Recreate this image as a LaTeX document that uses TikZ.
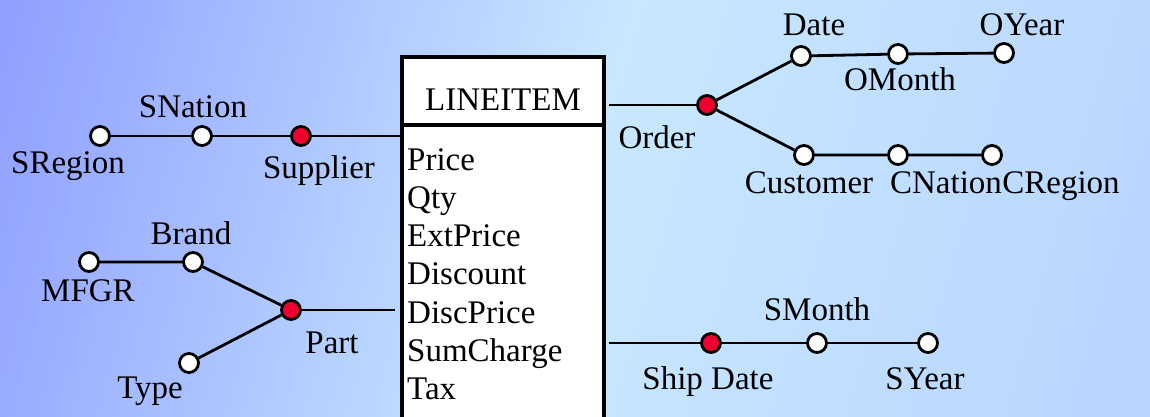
\documentclass[tikz,border=0pt]{standalone}
\usepackage{fontspec}
\setmainfont{LiberationSerif-Regular.ttf}
\usetikzlibrary{positioning}
\definecolor{bgdark}{RGB}{143,158,255}
\definecolor{bglight}{RGB}{200,232,255}
\definecolor{bgend}{RGB}{184,212,255}
\definecolor{keyred}{RGB}{240,0,48}
% backdrop runs from the upper left corner (19bp) to the lower right one (81bp)
\pgfdeclarehorizontalshading{backdrop}{100bp}{color(0bp)=(bgdark); color(19bp)=(bgdark);
color(50bp)=(bglight); color(81bp)=(bgend); color(100bp)=(bgend)}
\tikzset{x=1pt, y=-1pt, % one unit per pixel, y running downwards
every node/.style={font=\fontsize{33}{38}\selectfont},
lvldot/.style={ % white dot for a hierarchy level
circle, draw, line width=2.8pt, fill=white,
minimum size=19pt, inner sep=0pt},
keydot/.style={lvldot, fill=keyred}, % red dot where a dimension meets the fact table
lbl/.style={inner sep=0pt, anchor=base}, % level names
link/.style={line width=2.8pt},
table/.style={draw, line width=3.2pt, fill=white,
inner sep=0pt, outer sep=0pt, minimum width=202pt}}

\begin{document}
\begin{tikzpicture}
\useasboundingbox (0,0) rectangle (1150,416);
\shade[shading=backdrop, shading angle=-15.7] (0,0) rectangle (1150,416);

% fact table
\node[table, minimum height=68pt, text height=38pt, text depth=0pt] (lineitem) at (503,91) {LINEITEM};
\node[table, minimum height=320pt, anchor=north] (body) at (lineitem.south) {};
\foreach \attr [count=\i] in {Price,Qty,ExtPrice,Discount,DiscPrice,SumCharge,Tax}
\node[lbl, anchor=base west] (attr\i) at (407,{131.67+38.33*\i}) {\attr};

% supplier
\node[lvldot] (sregion) at (100,136) {};
\node[lvldot] (snation) at (202,136) {};
\node[keydot] (supplier) at (301,136) {};
\node[lbl] (sregionlbl) at (68,173) {SRegion};
\node[lbl] (snationlbl) at (193,117) {SNation};
\node[lbl] (supplierlbl) at (319,178) {Supplier};

% part
\node[lvldot] (mfgr) at (89,262) {};
\node[lvldot] (brand) at (193,262) {};
\node[lvldot] (type) at (189,363) {};
\node[keydot] (part) at (291,310) {};
\node[lbl] (mfgrlbl) at (88,301) {MFGR};
\node[lbl] (brandlbl) at (191,244) {Brand};
\node[lbl] (typelbl) at (150,398) {Type};
\node[lbl] (partlbl) at (332,353) {Part};

% order
\node[keydot] (order) at (707,105) {};
\node[lvldot] (date) at (801,56) {};
\node[lvldot] (omonth) at (898,54) {};
\node[lvldot] (oyear) at (1004,53) {};
\node[lvldot] (customer) at (804,155) {};
\node[lvldot] (cnation) at (898,155) {};
\node[lvldot] (cregion) at (992,155) {};
\node[lbl] (orderlbl) at (657,148) {Order};
\node[lbl] (datelbl) at (814,35) {Date};
\node[lbl] (omonthlbl) at (900,90) {OMonth};
\node[lbl] (oyearlbl) at (1022,35) {OYear};
\node[lbl] (customerlbl) at (809,193) {Customer};
\node[lbl] (cnationlbl) at (946,193) {CNation};
\node[lbl] (cregionlbl) at (1061,193) {CRegion};

% ship date
\node[keydot] (shipdate) at (711,343) {};
\node[lvldot] (smonth) at (817,343) {};
\node[lvldot] (syear) at (928,343) {};
\node[lbl] (shipdatelbl) at (708,389) {Ship Date};
\node[lbl] (smonthlbl) at (817,320) {SMonth};
\node[lbl] (syearlbl) at (925,389) {SYear};

% hierarchies
\draw[link] (sregion) -- (snation) -- (supplier) -- (supplier -| body.west);
\draw[link] (mfgr) -- (brand) -- (part);
\draw[link] (type) -- (part);
\draw[link] (part) -- ([xshift=-7pt]part -| body.west);
\draw[link] ([xshift=5pt]order -| body.east) -- (order);
\draw[link] (order) -- (date) -- (omonth) -- (oyear);
\draw[link] (order) -- (customer) -- (cnation) -- (cregion);
\draw[link] ([xshift=5pt]shipdate -| body.east) -- (shipdate) -- (smonth) -- (syear);
\end{tikzpicture}
\end{document}
